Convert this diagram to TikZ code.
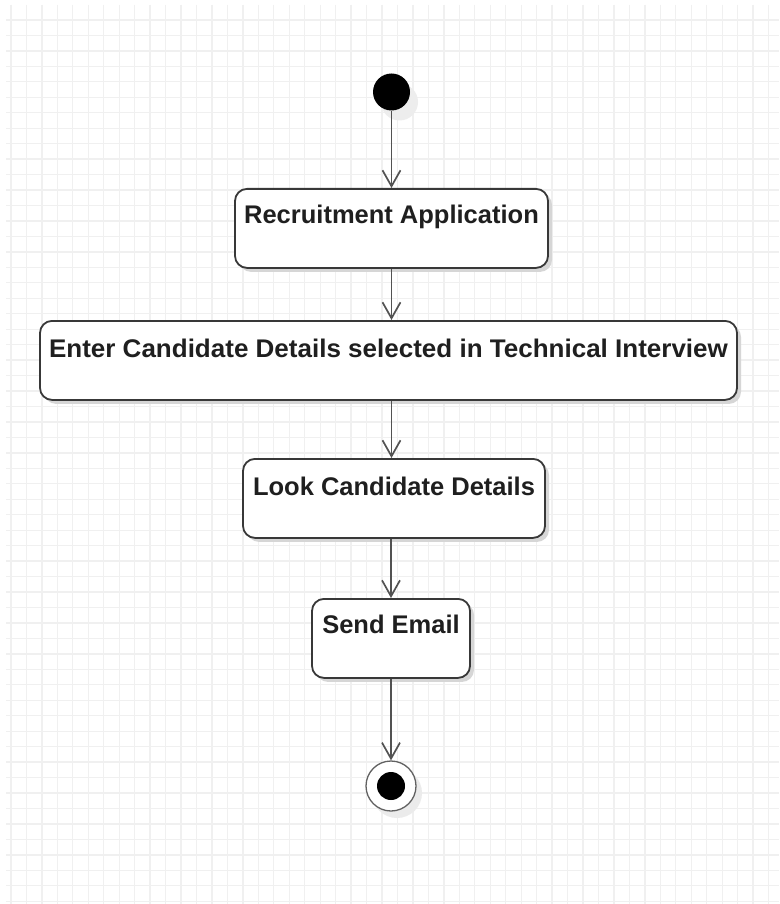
\documentclass[tikz,border=0pt]{standalone}
\usepackage{fontspec}
\setmainfont{Liberation Sans}
\usetikzlibrary{arrows.meta,shadows}

\begin{document}
\begin{tikzpicture}[x=1pt,y=-1pt,
  gridline/.style={draw=black!6, line width=1.3pt},
  actbox/.style={draw=black!78, line width=1.8pt, fill=white, rounded corners=12pt,
    minimum height=79pt, inner sep=0pt, anchor=north,
    drop shadow={shadow xshift=4pt, shadow yshift=-4pt, fill=black!16, opacity=1}},
  acttext/.style={anchor=base, inner sep=0pt, text=black!88,
    font=\bfseries\fontsize{25.5}{30}\selectfont},
  flow/.style={draw=black!68, line width=1.7pt, -{Straight Barb[length=16pt,width=18pt]}},
  startdot/.style={circle, fill=black, minimum size=37pt, inner sep=0pt,
    drop shadow={shadow xshift=8pt, shadow yshift=-10pt, fill=black!7, opacity=1}},
  endring/.style={circle, draw=black!62, line width=1.3pt, fill=white, minimum size=50pt, inner sep=0pt,
    drop shadow={shadow xshift=6pt, shadow yshift=-7pt, fill=black!8, opacity=1}},
  enddot/.style={circle, fill=black, minimum size=28pt, inner sep=0pt}
]
% page and background grid
\fill[white] (0,0) rectangle (779,904);
\useasboundingbox (0,0) rectangle (779,904);
\foreach \i in {0,...,49} \draw[gridline] ({11+15.46*\i},5) -- ({11+15.46*\i},904);
\foreach \j in {0,...,57} \draw[gridline] (6,{20+15.46*\j}) -- (779,{20+15.46*\j});

% initial node
\node[startdot] (start) at (391.5,92) {};

% activities
\node[actbox, minimum width=313pt] (b1) at (391.5,188) {};
\node[acttext] (t1) at ([yshift=-35pt]b1.north) {Recruitment Application};

\node[actbox, minimum width=697pt] (b2) at (388.5,320) {};
\node[acttext] (t2) at ([yshift=-37pt]b2.north) {\scalebox{1.02}[1]{Enter Candidate Details selected in Technical Interview}};

\node[actbox, minimum width=302pt] (b3) at (394,458) {};
\node[acttext] (t3) at ([yshift=-37pt]b3.north) {Look Candidate Details};

\node[actbox, minimum width=158pt] (b4) at (391,598) {};
\node[acttext] (t4) at ([yshift=-35pt]b4.north) {Send Email};

% final node
\node[endring] (end) at (391,786) {};
\node[enddot] (enddot) at (end.center) {};

% control flow
\draw[flow] (start) -- (b1);
\draw[flow] (b1.south) -- (b1.south |- b2.north);
\draw[flow] (b2.south -| b1.south) -- (b3.north -| b1.south);
\draw[flow] (b3.south -| b4.north) -- (b4.north);
\draw[flow] (b4.south) -- (end.north);
\end{tikzpicture}
\end{document}
